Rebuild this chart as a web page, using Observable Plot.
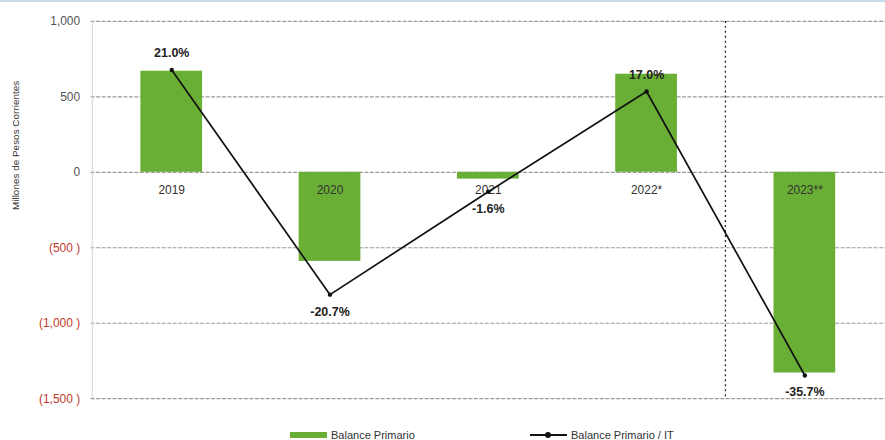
<!DOCTYPE html>
<html>
<head>
<meta charset="utf-8">
<script src="https://cdn.jsdelivr.net/npm/d3@7"></script>
<script src="https://cdn.jsdelivr.net/npm/@observablehq/plot@0.6"></script>
<style>
  html, body { margin: 0; padding: 0; background: #fff; overflow: hidden; width: 885px; height: 440px; }
  #wrap { position: relative; width: 885px; height: 440px; border-top: 2px solid #c9dcec; box-sizing: border-box; }
  #chart { position: absolute; left: 0; top: -2px; }
  #legend { position: absolute; left: 0; top: 424px; width: 885px; height: 18px; font-family: "Liberation Sans", Arial, sans-serif; font-size: 11px; color: #333; }
  .li { position: absolute; top: 3px; display: flex; align-items: center; white-space: nowrap; }
  .sw-bar { width: 37px; height: 6px; background: #6aaf35; margin-right: 4px; }
  .sw-line { position: relative; width: 37px; height: 2px; background: #111; margin-right: 4px; }
  .sw-line::after { content: ""; position: absolute; left: 15px; top: -2px; width: 6px; height: 6px; border-radius: 3px; background: #111; }
</style>
</head>
<body>
<div id="wrap">
  <div id="chart"></div>
  <div id="legend"></div>
</div>
<script>
// ---- data ----
const years = ["2019", "2020", "2021", "2022*", "2023**"];
const balance = [670, -590, -45, 650, -1330];          // Millones de Pesos Corrientes
const pctIT = [21.0, -20.7, -1.6, 17.0, -35.7];         // Balance Primario / IT (%)
const yTicks = [1000, 500, 0, -500, -1000, -1500];
const yDomain = [-1500, 1000];
const pctDomain = [-40, 30];                            // hidden secondary axis
const legendLabels = ["Balance Primario", "Balance Primario / IT"];
const yTitle = "Millones de Pesos Corrientes";

// ---- layout ----
const W = 889, H = 424, mL = 91, mR = 0, mT = 21, mB = 24;
const step = (W - mL - mR) / years.length;
const green = "#6aaf35";
const font = "Liberation Sans, Arial, sans-serif";

const rows = years.map((y, i) => ({year: y, val: balance[i], pct: pctIT[i]}));
const pctToY = d3.scaleLinear().domain(pctDomain).range(yDomain);
const fmt = d3.format(",");

const plot = Plot.plot({
  width: W, height: H,
  marginLeft: mL, marginRight: mR, marginTop: mT, marginBottom: mB,
  style: {fontFamily: font, background: "transparent"},
  x: {domain: years, paddingInner: 0.61, paddingOuter: 0.305, axis: null},
  y: {domain: yDomain, axis: null},
  marks: [
    Plot.ruleY(yTicks, {stroke: "#9a9a9a", strokeWidth: 1.2, strokeDasharray: "4,1.5"}),
    Plot.ruleX([0], {x: () => years[0], dx: -step / 2, y1: yDomain[1], y2: yDomain[0], stroke: "#d4d4d4"}),
    Plot.axisY(yTicks.filter(v => v >= 0), {tickSize: 0, tickPadding: 11, fontSize: 12, fill: "#555", tickFormat: v => fmt(v), label: null}),
    Plot.axisY(yTicks.filter(v => v < 0), {tickSize: 0, tickPadding: 11, fontSize: 12, fill: "#c0392b", tickFormat: v => "(" + fmt(-v) + " )", label: null}),
    Plot.text([yTitle], {frameAnchor: "left", dx: -76, rotate: -90, fontSize: 10, fill: "#333", dy: 0}),
    Plot.barY(rows, {x: "year", y: "val", fill: green}),
    Plot.ruleX([years[4]], {x: d => d, dx: -step / 2, y1: yDomain[1], y2: yDomain[0], stroke: "#222", strokeWidth: 1.3, strokeDasharray: "2,3"}),
    Plot.text(rows, {x: "year", y: () => 0, text: "year", dy: 18, fontSize: 12, fill: "#333"}),
    Plot.line(rows, {x: "year", y: d => pctToY(d.pct), stroke: "#111", strokeWidth: 1.7}),
    Plot.dot(rows, {x: "year", y: d => pctToY(d.pct), r: 2.2, fill: "#111"}),
    Plot.text(rows.filter(d => d.pct > 0), {x: "year", y: d => pctToY(d.pct), text: d => d.pct.toFixed(1) + "%", dy: -17, fontSize: 12.5, fontWeight: "bold", fill: "#222"}),
    Plot.text(rows.filter(d => d.pct <= 0), {x: "year", y: d => pctToY(d.pct), text: d => d.pct.toFixed(1) + "%", dy: 17, fontSize: 12.5, fontWeight: "bold", fill: "#222"})
  ]
});
document.getElementById("chart").appendChild(plot);

// legend
const leg = document.getElementById("legend");
const lefts = [290, 530];
legendLabels.forEach((t, i) => {
  const d = document.createElement("div");
  d.className = "li";
  d.style.left = lefts[i] + "px";
  const sw = document.createElement("span");
  sw.className = i === 0 ? "sw-bar" : "sw-line";
  const tx = document.createElement("span");
  tx.textContent = t;
  d.appendChild(sw); d.appendChild(tx);
  leg.appendChild(d);
});
</script>
</body>
</html>
